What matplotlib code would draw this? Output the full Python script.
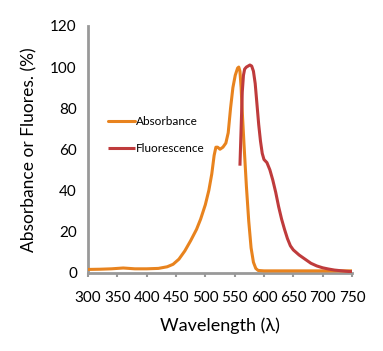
import matplotlib
matplotlib.use("Agg")
import matplotlib.pyplot as plt

plt.rcParams['font.family'] = ['Lato', 'DejaVu Sans']

abs_wl = [300, 320, 340, 360, 380, 400, 420, 435, 445, 455, 465, 475, 485, 492, 500, 506, 511, 515, 518, 521, 525, 530, 535, 539, 543, 547, 551, 555, 557, 559, 561, 563, 566, 570, 574, 578, 582, 586, 590, 600, 650, 700, 750]
abs_val = [1.5, 1.6, 1.8, 2.2, 1.8, 1.8, 2.0, 2.8, 4.0, 6.5, 10.5, 15.5, 21.0, 26.0, 33.0, 40.0, 48.0, 57.0, 61.0, 61.0, 60.0, 61.0, 63.0, 68.0, 80.0, 90.0, 96.0, 99.5, 100.0, 98.0, 90.0, 78.0, 62.0, 42.0, 25.0, 12.0, 5.0, 2.0, 1.0, 0.8, 0.8, 0.8, 0.8]

flu_wl = [559, 561, 563, 565, 567, 570, 573, 576, 579, 582, 585, 588, 591, 594, 597, 600, 605, 610, 615, 620, 625, 630, 635, 640, 645, 650, 660, 670, 680, 690, 700, 710, 720, 730, 740, 750]
flu_val = [52.0, 70.0, 88.0, 96.0, 99.0, 100.0, 100.5, 101.0, 100.5, 98.0, 92.0, 82.0, 72.0, 64.0, 58.0, 55.0, 53.5, 50.0, 45.0, 39.0, 32.0, 26.0, 21.0, 16.5, 13.0, 11.0, 8.5, 6.5, 4.5, 3.2, 2.3, 1.7, 1.2, 0.9, 0.6, 0.4]

xticks = [300, 350, 400, 450, 500, 550, 600, 650, 700, 750]
yticks = [0, 20, 40, 60, 80, 100, 120]

fig = plt.figure(figsize=(3.83, 3.51), dpi=100)
ax = fig.add_axes([0.2298, 0.2236, 0.919 - 0.2298, 0.926 - 0.2236])

ax.plot(abs_wl, abs_val, color='#E8831E', lw=2.2, label='Absorbance', solid_capstyle='round', zorder=3)
ax.plot(flu_wl, flu_val, color='#BF3B3C', lw=2.2, label='Fluorescence', solid_capstyle='butt', zorder=4)

ax.set_xlim(300, 750)
ax.set_ylim(0, 120)
ax.set_xticks(xticks)
ax.set_yticks(yticks)
ax.tick_params(axis='y', length=0, labelsize=11, pad=8)
ax.tick_params(axis='x', length=3, width=1.5, color='#999999', labelsize=11, pad=10, direction='out')

for s in ['top', 'right']:
    ax.spines[s].set_visible(False)
for s in ['left', 'bottom']:
    ax.spines[s].set_color('#999999')
    ax.spines[s].set_linewidth(2)
ax.spines['bottom'].set_zorder(2)

ax.set_xlabel('Wavelength (λ)', fontsize=13, labelpad=9)
ax.set_ylabel('Absorbance or Fluores. (%)', fontsize=12.5, labelpad=9)

ax.legend(loc='upper left', bbox_to_anchor=(0.058, 0.652), frameon=False, fontsize=8.5,
          handlelength=2.3, handletextpad=0.05, labelspacing=1.3, borderaxespad=0)

fig.savefig('out.png', dpi=100)
